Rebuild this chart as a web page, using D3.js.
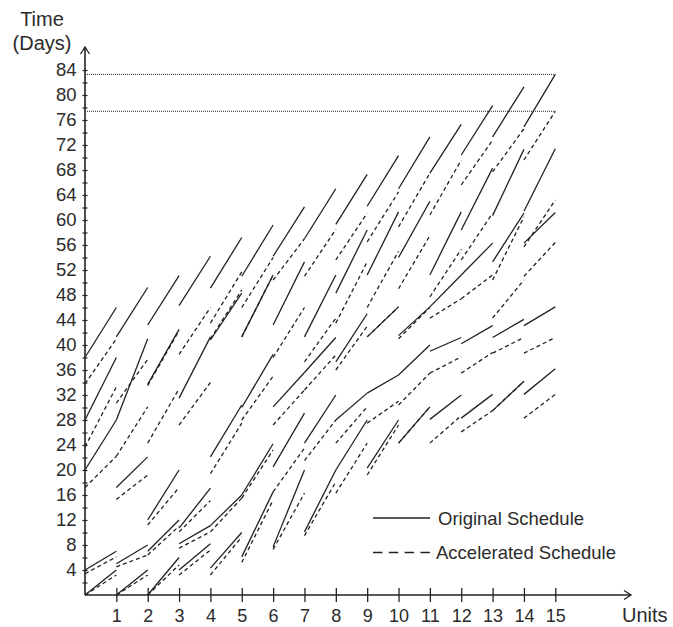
<!DOCTYPE html>
<html>
<head>
    <script src="https://cdn.jsdelivr.net/npm/d3@7"></script>
    <style>
        body { margin: 0; background: #fff; }
        text { font-family: "Liberation Sans", Arial, sans-serif; fill: #2b2b2b; }
    </style>
</head>
<body>
    <svg></svg>
    <script>
        // segments: [unit, start day, finish day] -> drawn from (unit, start) to (unit+1, finish)
        var units = d3.range(1, 16);
        var dayTicks = d3.range(2, 85, 2);
        var finishLines = [83.3, 77.4];

        var originalSegs = [
            [0, 0, 4], [0, 4, 7], [0, 20, 28], [0, 28, 38], [0, 38, 46],
            [1, 0, 4], [1, 5, 8], [1, 17.2, 22.1], [1, 28, 41], [1, 41.3, 49.2],
            [2, 0, 6], [2, 7, 12], [2, 12, 20], [2, 33.7, 42.5], [2, 43.2, 51.1],
            [3, 4, 8.2], [3, 8.2, 11.1], [3, 10.7, 17.1], [3, 31.5, 41.3], [3, 46.3, 54.2],
            [4, 4.3, 10], [4, 11.1, 16], [4, 22.1, 30.4], [4, 40.8, 48.3], [4, 49.1, 57.2],
            [5, 6.1, 16.5], [5, 16, 24.2], [5, 30, 38.5], [5, 41.3, 51.2], [5, 51, 59.2],
            [6, 7.7, 20], [6, 20.5, 29.1], [6, 30.1, 35.6], [6, 43.2, 53.3], [6, 54.2, 62.1],
            [7, 10.1, 20], [7, 24.3, 32], [7, 35.6, 41.2], [7, 41.3, 51.2], [7, 57, 65],
            [8, 20, 28], [8, 28, 32.3], [8, 37.3, 45], [8, 48.3, 58.4], [8, 59.3, 67.3],
            [9, 20.3, 28], [9, 32.3, 35.2], [9, 41.3, 46.1], [9, 51.2, 61.3], [9, 62.2, 70.3],
            [10, 24.3, 30.1], [10, 35.2, 40], [10, 41.5, 46.1], [10, 54, 63], [10, 65, 73.3],
            [11, 28.1, 32], [11, 39, 41.2], [11, 46.1, 51.2], [11, 51.2, 61.3], [11, 67.5, 75.3],
            [12, 28.3, 32.1], [12, 40.2, 43.1], [12, 51.2, 56.3], [12, 58.4, 68.3], [12, 70.4, 78.3],
            [13, 29.5, 34.2], [13, 41.2, 44.1], [13, 53.3, 61.1], [13, 60.7, 71.3], [13, 73.3, 81.3],
            [14, 32.1, 36.2], [14, 43.1, 46.1], [14, 56.3, 61.2], [14, 61.4, 71.4], [14, 74.9, 83.3]
        ];

        var acceleratedSegs = [
            [0, 0, 3.2], [0, 3.4, 6.1], [0, 17.2, 22.2], [0, 23.7, 33.3], [0, 33.8, 41],
            [1, 0, 3.2], [1, 4.5, 6.4], [1, 15.3, 19.2], [1, 22.2, 30.1], [1, 30.7, 37.7],
            [2, 0, 4.8], [2, 6.4, 11], [2, 11.2, 17.2], [2, 24.3, 33], [2, 33.5, 42.3],
            [3, 3.2, 7.2], [3, 7.5, 10.1], [3, 10.1, 15.1], [3, 27.2, 34], [3, 38.5, 46],
            [4, 3.2, 9.3], [4, 10.1, 15.5], [4, 19.4, 27.5], [4, 41, 48.8], [4, 43.5, 51.7],
            [5, 5.2, 15.2], [5, 15.5, 23.2], [5, 28, 35], [5, 41.3, 51.2], [5, 46, 54],
            [6, 7.3, 16.3], [6, 16.5, 23.5], [6, 27.2, 32.8], [6, 38, 46], [6, 50.4, 57],
            [7, 9.5, 18.1], [7, 21.5, 28], [7, 32.8, 38.4], [7, 37.3, 44.3], [7, 51, 58.5],
            [8, 16.3, 24.3], [8, 24.3, 30.1], [8, 36, 43], [8, 43.5, 53.3], [8, 53.6, 61.1],
            [9, 19.2, 27.2], [9, 27.5, 31], [9, 41.3, 46.1], [9, 46, 55], [9, 56.5, 64.5],
            [10, 24.3, 30.1], [10, 30.4, 35.5], [10, 41, 46], [10, 49, 57.5], [10, 58.9, 67.5],
            [11, 24.3, 28.7], [11, 35.5, 38.1], [11, 44.3, 47.4], [11, 47.7, 55.3], [11, 60.8, 69.6],
            [12, 26.1, 29.5], [12, 35.5, 38.8], [12, 47.4, 51.2], [12, 53.6, 61.1], [12, 65.6, 72.8],
            [13, 29.5, 34.2], [13, 38.7, 41.2], [13, 44.3, 50.4], [13, 50.4, 60.5], [13, 67.7, 74.6],
            [14, 28.3, 32.1], [14, 38.7, 41.2], [14, 51, 56.4], [14, 55.7, 63.2], [14, 69.6, 77.4]
        ];

        var width = 673;
        var height = 627;

        var svg = d3.select("svg")
            .attr("width", width)
            .attr("height", height);

        var x = d3.scaleLinear().domain([0, 15]).range([85, 555.3]);
        var y = d3.scaleLinear().domain([0, 84]).range([595, 70]);

        var ink = "#222";

        // dotted finish lines
        svg.selectAll(".finish")
            .data(finishLines)
            .enter()
            .append("line")
            .attr("x1", x(0))
            .attr("x2", x(15))
            .attr("y1", function(d) { return y(d); })
            .attr("y2", function(d) { return y(d); })
            .attr("stroke", ink)
            .attr("stroke-width", 1)
            .attr("stroke-dasharray", "1,1");

        // x axis
        var xAxis = svg.append("g")
            .attr("transform", "translate(0," + y(0) + ")")
            .call(d3.axisBottom(x).tickValues(units).tickSize(7).tickPadding(7));
        xAxis.select(".domain").remove();
        xAxis.selectAll(".tick line").attr("y1", -7).attr("stroke", ink).attr("stroke-width", 1.3);
        xAxis.selectAll("text").style("font-size", "18px").attr("fill", "#2b2b2b");

        // y axis
        var yAxis = svg.append("g")
            .attr("transform", "translate(" + x(0) + ",0)")
            .call(d3.axisLeft(y).tickValues(dayTicks).tickSize(2.5).tickPadding(6)
                .tickFormat(function(d) { return d % 4 === 0 ? d : ""; }));
        yAxis.select(".domain").remove();
        yAxis.selectAll(".tick line").attr("x2", 2.5).attr("x1", -2.5).attr("stroke", ink).attr("stroke-width", 1.2);
        yAxis.selectAll("text").style("font-size", "18.5px").attr("fill", "#2b2b2b");

        // axis lines with open arrows
        svg.append("line")
            .attr("x1", x(0)).attr("y1", y(0)).attr("x2", 631).attr("y2", y(0))
            .attr("stroke", ink).attr("stroke-width", 1.6);
        svg.append("path")
            .attr("d", "M624,590.5 L631,595 L624,599.5")
            .attr("fill", "none").attr("stroke", ink).attr("stroke-width", 1.3);
        svg.append("line")
            .attr("x1", x(0)).attr("y1", y(0)).attr("x2", x(0)).attr("y2", 47)
            .attr("stroke", ink).attr("stroke-width", 1.6);
        svg.append("path")
            .attr("d", "M80.5,54 L85,47 L89.5,54")
            .attr("fill", "none").attr("stroke", ink).attr("stroke-width", 1.3);

        // axis titles
        svg.append("text").attr("x", 42).attr("y", 26).attr("text-anchor", "middle")
            .style("font-size", "20px").text("Time");
        svg.append("text").attr("x", 42).attr("y", 50).attr("text-anchor", "middle")
            .style("font-size", "20px").text("(Days)");
        svg.append("text").attr("x", 622).attr("y", 622)
            .style("font-size", "20px").text("Units");

        // schedule segments
        var g = svg.append("g");
        g.selectAll(".orig")
            .data(originalSegs)
            .enter()
            .append("line")
            .attr("x1", function(d) { return x(d[0]); })
            .attr("y1", function(d) { return y(d[1]); })
            .attr("x2", function(d) { return x(d[0] + 1); })
            .attr("y2", function(d) { return y(d[2]); })
            .attr("stroke", ink)
            .attr("stroke-width", 1.3);

        g.selectAll(".accel")
            .data(acceleratedSegs)
            .enter()
            .append("line")
            .attr("x1", function(d) { return x(d[0]); })
            .attr("y1", function(d) { return y(d[1]); })
            .attr("x2", function(d) { return x(d[0] + 1); })
            .attr("y2", function(d) { return y(d[2]); })
            .attr("stroke", ink)
            .attr("stroke-width", 1.3)
            .attr("stroke-dasharray", "4,3");

        // legend
        var legend = svg.append("g");
        legend.append("line").attr("x1", 373).attr("x2", 430).attr("y1", 518).attr("y2", 518)
            .attr("stroke", ink).attr("stroke-width", 1.3);
        legend.append("text").attr("x", 438).attr("y", 524.5).style("font-size", "18.5px").text("Original Schedule");
        legend.append("line").attr("x1", 373).attr("x2", 430).attr("y1", 552.5).attr("y2", 552.5)
            .attr("stroke", ink).attr("stroke-width", 1.3).attr("stroke-dasharray", "9.5,6.3");
        legend.append("text").attr("x", 436).attr("y", 559).style("font-size", "18.5px").text("Accelerated Schedule");
    </script>
</body>
</html>
